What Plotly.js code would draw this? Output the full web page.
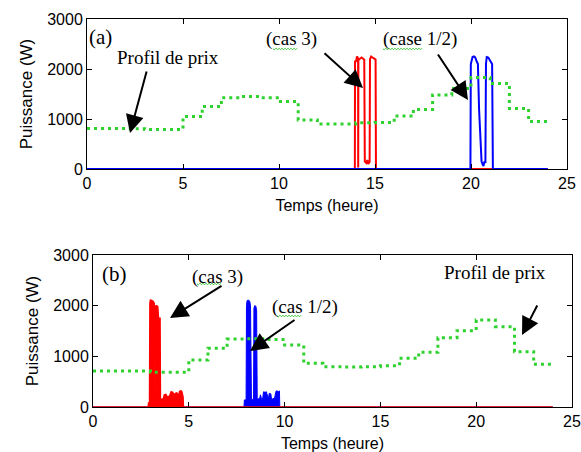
<!DOCTYPE html>
<html>
<head>
<meta charset="utf-8">
<script src="https://cdn.plot.ly/plotly-3.0.1.min.js"></script>
<style>html,body{margin:0;padding:0;background:#fff;}#chart{width:581px;height:452px;}</style>
</head>
<body>
<div id="chart"></div>
<script>
// ---------- data ----------
const heures = [0,1,2,3,4,5,6,7,8,9,10,11,12,13,14,15,16,17,18,19,20,21,22,23,24];
// price profile (plotted on the W axis), hourly steps
const prixA = [810,810,805,790,790,1050,1250,1425,1450,1425,1350,980,900,900,925,930,1060,1190,1480,1610,1830,1710,1210,950,950];
const prixB = [710,710,710,685,685,928,1158,1340,1345,1330,1224,862,795,790,795,815,960,1079,1368,1507,1717,1585,1092,843,843];

// panel (a) : cas 3 (red)
const tA_cas3 = [0,13.95,13.96,14.02,14.06,14.1,14.12,14.125,14.135,14.2,14.3,14.4,14.44,14.47,14.55,14.6,14.65,14.72,14.74,14.8,14.85,14.9,15.0,15.03,15.05,24];
const pA_cas3 = [0,0,2150,2160,2250,2230,2180,30,2180,2200,2230,2200,2190,150,120,180,100,140,2200,2250,2230,2220,2200,2190,0,0];
// panel (a) : cas 1/2 (blue)
const tA_cas12 = [0,19.97,19.99,20.03,20.08,20.15,20.22,20.3,20.36,20.42,20.5,20.55,20.6,20.65,20.7,20.75,20.78,20.82,20.9,20.97,21.05,21.1,21.14,24];
const pA_cas12 = [0,0,2100,2150,2240,2250,2230,2150,2100,1200,300,150,100,60,150,120,2100,2240,2230,2180,2150,2100,0,0];

// panel (b) : cas 3 (red)
const tB_cas3 = [0,2.88,2.9,2.95,2.97,3.0,3.08,3.15,3.2,3.22,3.24,3.26,3.32,3.38,3.42,3.5,3.52,3.6,3.68,3.72,3.8,3.86,3.92,4.0,4.08,4.16,4.2,4.28,4.34,4.4,4.46,4.52,4.6,4.64,4.68,4.7,4.72,24];
const pB_cas3 = [0,0,80,80,2050,2110,2100,2080,2040,200,200,1990,2000,1980,1750,1750,160,150,170,240,250,210,200,220,300,290,260,250,280,270,200,310,320,300,210,200,0,0];
// panel (b) : cas 1/2 (blue)
const tB_cas12 = [0,7.88,7.9,7.99,8.01,8.04,8.1,8.18,8.22,8.25,8.27,8.38,8.4,8.44,8.5,8.54,8.57,8.62,8.7,8.74,8.8,8.86,8.9,8.98,9.05,9.12,9.16,9.2,9.28,9.32,9.4,9.48,9.55,9.6,9.68,9.73,9.75,24];
const pB_cas12 = [0,0,140,140,2000,2100,2110,2090,2000,1200,150,150,1950,2000,1990,1900,180,160,170,240,150,180,300,290,300,200,180,270,260,150,170,180,310,320,300,320,0,0];

const xTicks = [0,5,10,15,20,25];
const yTicks = [0,1000,2000,3000];

// ---------- layout helpers ----------
const W = 581, H = 452;
const px = v => v / W;
const py = v => 1 - v / H;

const RED = '#ff0000', BLUE = '#0000ff', GREEN = '#2fd12f';
const sans = 'Arial, "Liberation Sans", sans-serif';
const serif = '"Times New Roman", "Liberation Serif", serif';

const traces = [
  {x: tA_cas3, y: pA_cas3, xaxis:'x', yaxis:'y', mode:'lines', line:{color:RED, width:2}, name:'cas 3 (a)', showlegend:false},
  {x: tA_cas12, y: pA_cas12, xaxis:'x', yaxis:'y', mode:'lines', line:{color:BLUE, width:2}, name:'cas 1/2 (a)', showlegend:false},
  {x: heures, y: prixA, xaxis:'x', yaxis:'y', mode:'lines', line:{color:GREEN, width:3, dash:'3px,4px', shape:'hv'}, name:'Profil de prix (a)', showlegend:false},
  {x: tB_cas12, y: pB_cas12, xaxis:'x2', yaxis:'y2', mode:'lines', fill:'tozeroy', fillcolor:BLUE, line:{color:BLUE, width:1}, name:'cas 1/2 (b)', showlegend:false},
  {x: tB_cas3, y: pB_cas3, xaxis:'x2', yaxis:'y2', mode:'lines', fill:'tozeroy', fillcolor:RED, line:{color:RED, width:1.5}, name:'cas 3 (b)', showlegend:false},
  {x: heures, y: prixB, xaxis:'x2', yaxis:'y2', mode:'lines', line:{color:GREEN, width:3, dash:'3px,4px', shape:'hv'}, name:'Profil de prix (b)', showlegend:false}
];

function xAxis(domain, anchor, standoff) {
  return {
    domain: domain, anchor: anchor, range:[0,25], tickvals:xTicks, ticktext:xTicks.map(String),
    ticks:'inside', ticklen:5, tickcolor:'#000', showline:true, linecolor:'#000', linewidth:1, mirror:'ticks',
    showgrid:false, zeroline:false, tickfont:{family:sans, size:16, color:'#000'},
    title:{text:'Temps (heure)', font:{family:sans, size:16, color:'#000'}, standoff:standoff}
  };
}
function yAxis(domain, anchor) {
  return {
    domain: domain, anchor: anchor, range:[0,3000], tickvals:yTicks, ticktext:yTicks.map(String),
    ticks:'inside', ticklen:5, tickcolor:'#000', showline:true, linecolor:'#000', linewidth:1, mirror:'ticks',
    showgrid:false, zeroline:false, tickfont:{family:sans, size:16, color:'#000'},
    title:{text:'Puissance (W)', font:{family:sans, size:17, color:'#000'}, standoff:10}
  };
}

function label(text, cx, cy, size) {
  return {text:text, x:px(cx), y:py(cy), xref:'paper', yref:'paper', showarrow:false,
          xanchor:'center', yanchor:'middle', font:{family:serif, size:size || 19, color:'#000'}};
}
function arrow(tailX, tailY, tipX, tipY) {
  return {text:'', x:px(tipX), y:py(tipY), xref:'paper', yref:'paper', showarrow:true,
          ax:tailX-tipX, ay:tailY-tipY, arrowhead:2, arrowsize:1.8, arrowwidth:2, arrowcolor:'#000', standoff:0, startstandoff:0};
}
function wavy(x0, x1, y) {
  let d = 'M' + px(x0) + ',' + py(y);
  let k = 0;
  for (let x = x0 + 1.5; x <= x1; x += 1.5) {
    k++;
    d += ' L' + px(x) + ',' + py(y + (k % 2 ? 1 : -1) * 0.8);
  }
  return {type:'path', xref:'paper', yref:'paper', path:d, line:{color:'#3cc43c', width:1}};
}

const layout = {
  width: W, height: H, margin:{l:0, r:0, t:0, b:0},
  paper_bgcolor:'#fff', plot_bgcolor:'#fff', showlegend:false,
  xaxis: xAxis([px(87), px(567)], 'y', 8),
  yaxis: yAxis([py(169), py(19)], 'x'),
  xaxis2: xAxis([px(93), px(572)], 'y2', 8),
  yaxis2: yAxis([py(407), py(255)], 'x2'),
  annotations: [
    label('(a)', 100, 37, 21),
    label('Profil de prix', 168, 57),
    label('(cas 3)', 291, 39),
    label('(case 1/2)', 420, 39),
    label('(b)', 115, 274, 21),
    label('(cas 3)', 217, 277),
    label('(cas 1/2)', 305, 307),
    label('Profil de prix', 495, 272),
    arrow(147, 70, 130, 133),
    arrow(323, 52, 363, 88),
    arrow(437, 53, 468, 100),
    arrow(223, 285, 170, 318),
    arrow(296, 319, 250, 351),
    arrow(538, 304, 522, 335)
  ],
  shapes: [
    wavy(273, 298, 49),
    wavy(383, 423, 49),
    wavy(197, 222, 284),
    wavy(277, 302, 316)
  ]
};

Plotly.newPlot('chart', traces, layout, {staticPlot:true, displayModeBar:false});
</script>
</body>
</html>
